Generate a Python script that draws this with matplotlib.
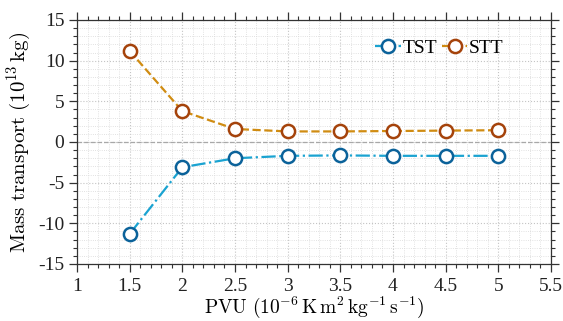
import matplotlib
matplotlib.use("Agg")
import matplotlib.pyplot as plt
from matplotlib.ticker import MultipleLocator

pvu = [1.5, 2.0, 2.5, 3.0, 3.5, 4.0, 4.5, 5.0]
tst = [-11.3, -3.1, -2.0, -1.7, -1.65, -1.7, -1.7, -1.7]
stt = [11.2, 3.8, 1.6, 1.3, 1.3, 1.35, 1.4, 1.45]
xticks = [1, 1.5, 2, 2.5, 3, 3.5, 4, 4.5, 5, 5.5]
xticklabels = ['1', '1.5', '2', '2.5', '3', '3.5', '4', '4.5', '5', '5.5']
yticks = [-15, -10, -5, 0, 5, 10, 15]

plt.rcParams['font.family'] = ['Liberation Serif', 'DejaVu Serif']
plt.rcParams['mathtext.fontset'] = 'cm'
plt.rcParams['axes.unicode_minus'] = False

fig = plt.figure(figsize=(5.63, 3.21), dpi=100)
ax = fig.add_axes([77/563, 1-264/321, (551-77)/563, (264-20)/321])

ax.set_xlim(1, 5.5)
ax.set_ylim(-15, 15)
ax.set_xticks(xticks)
ax.set_xticklabels(xticklabels)
ax.set_yticks(yticks)
ax.xaxis.set_minor_locator(MultipleLocator(0.1))
ax.yaxis.set_minor_locator(MultipleLocator(1))

ax.grid(which='major', color='#c4c4c4', linestyle=':', linewidth=0.8)
ax.grid(which='minor', color='#d8d8d8', linestyle=':', linewidth=0.6)
ax.set_axisbelow(True)

ax.axhline(0, color='#a8a8a8', linestyle='--', linewidth=0.9, zorder=1)

ax.plot(pvu, tst, linestyle='-.', color='#1aa3d1', linewidth=1.6,
        marker='o', markersize=9.5, markerfacecolor='white',
        markeredgecolor='#0b629a', markeredgewidth=1.8, label='TST', zorder=3)
ax.plot(pvu, stt, linestyle='--', color='#d08c12', linewidth=1.6,
        marker='o', markersize=9.5, markerfacecolor='white',
        markeredgecolor='#a5430b', markeredgewidth=1.8, label='STT', zorder=3)

for s in ax.spines.values():
    s.set_color('#333333')
    s.set_linewidth(0.9)

ax.tick_params(which='both', direction='out', top=True, right=True,
               colors='#333333', labelcolor='#222222', labelsize=14)
ax.tick_params(which='major', length=6, width=0.9)
ax.tick_params(which='minor', length=3, width=0.8)
ax.tick_params(axis='x', pad=4)
ax.tick_params(axis='y', pad=3)

ax.set_xlabel(r'$\mathrm{PVU\ (10^{-6}\,K\,m^2\,kg^{-1}\,s^{-1})}$', fontsize=14, labelpad=0)
ax.set_ylabel(r'$\mathrm{Mass\ transport\ (10^{13}\,kg)}$', fontsize=15, labelpad=4)

ax.legend(loc='upper right', ncol=2, frameon=False, fontsize=14,
          handlelength=1.3, handletextpad=0.1, columnspacing=0.25,
          bbox_to_anchor=(0.925, 0.97), borderaxespad=0.2)

fig.savefig('out.png', dpi=100)
